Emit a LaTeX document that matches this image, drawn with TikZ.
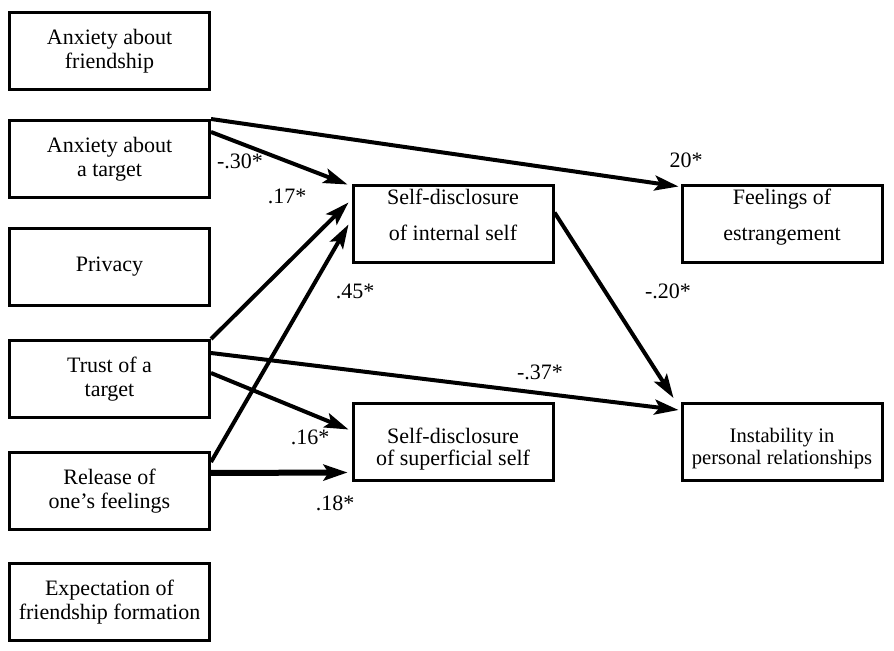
\documentclass[tikz,border=0pt]{standalone}
\usepackage{fontspec}
\setmainfont{Liberation Serif}
\usetikzlibrary{arrows.meta}

\tikzset{
  var/.style={draw, line width=1.5pt, minimum width=100pt, minimum height=38.5pt,
    inner sep=0pt, align=center, font=\fontsize{11}{12}\selectfont},
  arr/.style={line width=2pt, -{Stealth[length=12pt,width=7.5pt,inset=2.5pt]}},
  coef/.style={inner sep=0pt, font=\fontsize{11}{12}\selectfont}
}

\begin{document}
\begin{tikzpicture}[x=0.5pt,y=-0.5pt]
\useasboundingbox (0,0) rectangle (894,651);

% predictors
\node[var] (frnd) at (109.5,51) {Anxiety about\\friendship};
\node[var] (targ) at (109.5,159) {Anxiety about\\a target};
\node[var] (priv) at (109.5,267) {Privacy};
\node[var] (trust) at (109.5,379) {Trust of a\\target};
\node[var] (rel) at (109.5,491) {Release of\\one's feelings};
\node[var] (expc) at (109.5,602) {Expectation of\\friendship formation};

% mediators
\node[var] (intl) at (453,224.5) {Self-disclosure\\[6pt]of internal self\rule[-10pt]{0pt}{0pt}};
\node[var, font=\fontsize{11}{11}\selectfont] (sup) at (453,442.5) {\rule{0pt}{14pt}Self-disclosure\\of superficial self};

% outcomes
\node[var] (feel) at (782,224.5) {Feelings of\\[6pt]estrangement\rule[-10pt]{0pt}{0pt}};
\node[var, font=\fontsize{10.3}{11}\selectfont] (inst) at (782,442) {\rule{0pt}{14pt}Instability in\\personal relationships};

% paths
\draw[arr] (targ.north east) -- ([xshift=-1pt,yshift=-1pt]feel.north west);
\draw[arr] ([yshift=-6.5pt]targ.north east) -- ([xshift=-2pt]intl.north west);
\draw[arr] (trust.north east) -- ([xshift=-1.5pt,yshift=-9pt]intl.north west);
\draw[arr] ([yshift=-5.5pt]rel.north east) -- ([xshift=-1.5pt]intl.west);
\draw[arr] ([yshift=-7pt]trust.north east) -- ([xshift=-1pt,yshift=-4pt]inst.north west);
\draw[arr] ([yshift=3pt]trust.east) -- ([xshift=-1.5pt,yshift=6.5pt]sup.west);
\draw[line width=3pt, -{Stealth[length=12pt,width=8pt,inset=2.5pt]}] ([yshift=9pt]rel.east) -- ([xshift=-2pt,yshift=-15pt]sup.west);
\draw[arr] ([yshift=6pt]intl.east) -- ([xshift=-3.5pt,yshift=2pt]inst.north west);

% coefficients
\node[coef] (c30) at (240,161) {-.30*};
\node[coef] (c17) at (287,196) {.17*};
\node[coef] (c45) at (355,291) {.45*};
\node[coef] (c20a) at (686,160) {20*};
\node[coef] (c20b) at (668,291) {-.20*};
\node[coef] (c37) at (540,372) {-.37*};
\node[coef] (c16) at (310,437) {.16*};
\node[coef] (c18) at (335,503) {.18*};
\end{tikzpicture}
\end{document}
